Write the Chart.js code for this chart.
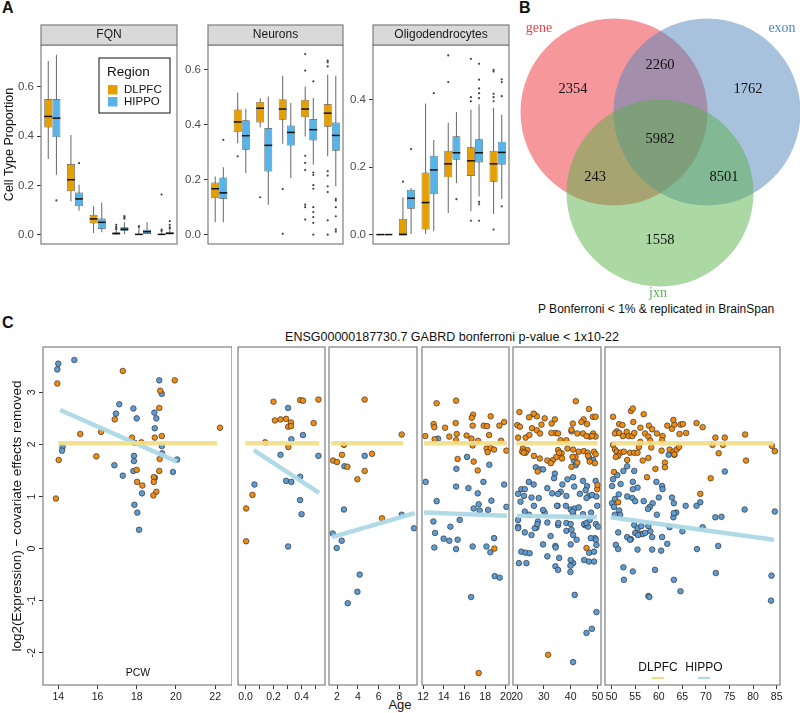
<!DOCTYPE html>
<html>
<head>
<meta charset="utf-8">
<script src="https://cdn.jsdelivr.net/npm/chart.js"></script>
<style>
body { margin: 0; width: 800px; height: 713px; position: relative; overflow: hidden; background: #fff; font-family: "Liberation Sans", Arial, sans-serif; }
canvas { position: absolute; }
.lbl { position: absolute; white-space: nowrap; line-height: 1; color: #111; }
</style>
</head>
<body>
<div class="lbl" style="left:2px;top:0px;font-size:16px;font-weight:bold">A</div>
<div class="lbl" style="left:519px;top:0px;font-size:16px;font-weight:bold">B</div>
<div class="lbl" style="left:2px;top:315px;font-size:16px;font-weight:bold">C</div>
<div class="lbl" style="left:452px;top:331px;font-size:12.5px;transform:translateX(-50%)">ENSG00000187730.7 GABRD bonferroni p-value &lt; 1x10-22</div>
<div class="lbl" style="left:400px;top:698px;font-size:13px;transform:translateX(-50%)">Age</div>
<div class="lbl" style="left:538px;top:303px;font-size:12px">P Bonferroni &lt; 1% &amp; replicated in BrainSpan</div>
<script>
// ---- panel A: cell type proportions ----
var ageGroups = ['Prenatal', 'Infant', 'Child', 'Teen', 'Adult', '50+']

// [lower whisker, q1, median, q3, upper whisker] per age group
var fqnDlpfc = [[0.307,0.435,0.48,0.551,0.705],[0.135,0.176,0.223,0.287,0.405],[0.007,0.045,0.064,0.081,0.115],[0,0,0.004,0.01,0.018],[0,0,0.001,0.003,0.025],[0,0,0.001,0.004,0.01]]
var fqnHippo = [[0.243,0.396,0.473,0.551,0.73],[0.097,0.115,0.145,0.171,0.203],[0.01,0.023,0.05,0.066,0.131],[0,0.015,0.022,0.03,0.05],[0,0.003,0.012,0.02,0.05],[0,0,0.005,0.01,0.02]]
var fqnDlpfcOut = [[],[],[],[0.022,0.027,0.032,0.04],[0.03,0.035],[0.015,0.02,0.163]]
var fqnHippoOut = [[0.139],[0.29],[],[0.065,0.07,0.075],[],[0.025,0.03,0.04,0.055]]

var neuDlpfc = [[0.045,0.133,0.167,0.19,0.212],[0.333,0.373,0.41,0.455,0.517],[0.39,0.408,0.46,0.483,0.495],[0.331,0.418,0.457,0.493,0.578],[0.357,0.427,0.457,0.491,0.539],[0.285,0.393,0.442,0.475,0.582]]
var neuHippo = [[0.045,0.13,0.152,0.208,0.245],[0.224,0.309,0.36,0.416,0.458],[0.109,0.23,0.325,0.388,0.503],[0.206,0.324,0.372,0.397,0.479],[0.255,0.343,0.382,0.421,0.497],[0.176,0.305,0.361,0.408,0.578]]
var neuDlpfcOut = [[],[0.285],[0.136],[0.166,0.003],[0.657,0.597,0.287,0.261,0.235,0.109,0.1,0.055],[0.633,0.627,0.612,0.231,0.215,0.176,0.155,0.052,0.0]]
var neuHippoOut = [[0.345],[],[],[],[0.558,0.226,0.217,0.18,0.167,0.1,0.082,0.064,0.043,0.0],[0.13,0.124,0.1,0.067,0.019,0.011]]

var oliDlpfc = [[0,0,0,0,0],[0,0,0,0.047,0.11],[0,0.015,0.095,0.184,0.389],[0.064,0.17,0.21,0.249,0.332],[0.069,0.174,0.219,0.259,0.371],[0.061,0.157,0.21,0.249,0.377]]
var oliHippo = [[0,0,0,0,0],[0,0.077,0.108,0.133,0.138],[0.01,0.12,0.192,0.234,0.281],[0.153,0.222,0.243,0.292,0.364],[0.113,0.214,0.243,0.283,0.387],[0.106,0.207,0.244,0.276,0.356]]
var oliDlpfcOut = [[],[0.157],[],[0.532,0.453],[0.522,0.408,0.396,0.041],[0.489,0.484,0.418,0.408,0.396,0.015]]
var oliHippoOut = [[],[0.254],[0.42],[0.105],[0.507,0.46,0.434,0.42,0.405,0.097,0.09,0.041],[0.461,0.453,0.411,0.084]]

// ---- panel B: venn ----
var vennSets = ['gene', 'exon', 'jxn']
var vennCenterX = [94, 187, 140]
var vennCenterY = [188, 188, 107]
var vennSetLabelX = [19, 262, 138]
var vennSetLabelY = [272, 272, 7]
var vennCounts = [2354, 2260, 1762, 5982, 243, 8501, 1558]
var vennCountX = [53, 140, 228, 140, 75, 204, 140]
var vennCountY = [211, 235, 211, 161, 123, 123, 60]

// ---- panel C: GABRD expression by age, [age, expression] ----
var pcwDlpfc = [[13.95,3.17],[17.29,3.41],[19.94,3.23],[19.2,3.03],[19.15,2.70],[16.88,2.48],[15.12,2.2],[16.18,2.24],[17.76,2.13],[18.24,2.04],[18.92,2.13],[19.28,2.16],[22.25,2.32],[14.02,1.70],[15.94,1.77],[19.17,1.72],[18.0,1.51],[19.15,1.49],[18.02,1.28],[18.29,1.21],[18.87,1.37],[18.87,1.28],[19.0,1.09],[18.85,1.02],[13.88,0.96]]
var pcwHippo = [[14.0,3.55],[13.95,3.44],[14.82,3.62],[14.22,1.95],[14.19,1.88],[17.11,2.77],[16.94,2.59],[17.83,2.69],[18.0,2.50],[19.15,3.23],[19.28,2.97],[18.9,2.61],[19.0,2.5],[18.92,2.31],[19.28,1.97],[19.29,1.83],[20.06,1.71],[17.86,1.78],[17.86,1.68],[16.86,1.6],[17.29,1.4],[17.83,1.49],[18.93,1.36],[19.85,1.47],[18.27,1.06],[17.88,0.84],[18.03,0.69],[18.12,0.36],[17.9,2.03]]
var pcwFitDlpfc = [[14.0,2.02],[22.1,2.02]]
var pcwFitHippo = [[14.1,2.66],[20.05,1.67]]

var infantDlpfc = [[0.20,2.82],[0.39,2.85],[0.41,2.84],[0.52,2.86],[0.21,2.46],[0.25,2.48],[0.29,2.49],[0.325,2.42],[0.304,2.34],[0.325,2.35],[0.486,2.41],[0.14,2.04],[0.306,1.95],[0.05,1.03],[0.005,0.77],[0.005,0.14]]
var infantHippo = [[0.304,2.70],[0.327,2.10],[0.41,2.18],[0.25,1.80],[0.52,1.78],[0.39,1.38],[0.29,1.30],[0.327,1.28],[0.064,1.23],[0.39,0.93],[0.40,0.66],[0.304,0.04]]
var infantFitDlpfc = [[0.0,2.02],[0.525,2.02]]
var infantFitHippo = [[0.059,1.89],[0.525,1.07]]

var childDlpfc = [[4.66,2.86],[8.22,2.19],[2.67,1.99],[2.48,1.80],[1.62,1.69],[2.0,1.66],[3.0,1.57],[5.37,1.82],[4.66,1.49],[3.96,1.33],[6.33,0.58]]
var childHippo = [[4.66,1.78],[2.71,1.58],[2.67,0.75],[8.22,0.65],[9.4,0.39],[1.59,0.29],[2.45,0.15],[1.97,0.01],[4.18,-0.50],[3.96,-0.83],[3.03,-1.05]]
var childFitDlpfc = [[1.46,2.02],[8.35,2.02]]
var childFitHippo = [[1.52,0.22],[9.47,0.68]]

var teenDlpfc = [[13.31,2.79],[15.19,2.84],[16.83,2.57],[16.7,2.51],[18.53,2.54],[13.02,2.39],[13.09,2.33],[14.13,2.32],[15.15,2.41],[16.79,2.36],[17.86,2.36],[18.18,2.35],[19.37,2.36],[19.83,2.43],[12.22,2.16],[13.12,2.10],[14.54,2.15],[15.25,2.20],[15.19,2.08],[16.21,2.17],[16.67,2.11],[17.31,2.07],[18.38,2.18],[19.54,2.07],[16.79,1.98],[18.14,1.92],[18.53,1.93],[18.86,1.90],[18.24,1.85],[20.05,1.88],[15.34,1.72],[16.89,1.67],[17.28,1.50],[18.89,0.0],[17.37,-2.39]]
var teenHippo = [[13.45,2.11],[16.25,1.76],[15.22,1.53],[18.4,1.61],[12.25,1.28],[15.19,1.19],[16.38,1.16],[17.83,1.28],[19.83,1.23],[17.28,1.06],[13.31,0.91],[18.6,0.92],[17.37,0.85],[16.89,0.77],[17.47,0.73],[18.28,0.74],[20.05,0.80],[13.0,0.52],[15.54,0.55],[14.64,0.42],[13.16,0.30],[13.99,0.19],[14.54,0.15],[15.34,0.17],[18.86,0.20],[13.09,0.02],[16.79,0.04],[18.12,0.04],[15.19,-0.01],[18.5,-0.07],[18.92,-0.53],[19.4,-0.56],[16.64,-0.93]]
var teenFitDlpfc = [[12.1,2.02],[20.1,2.02]]
var teenFitHippo = [[12.1,0.69],[20.1,0.63]]

var adultDlpfc = [[41.9,2.83],[20.9,2.62],[46.8,2.68],[26.3,2.58],[27.4,2.54],[24.5,2.52],[30.3,2.50],[44.8,2.48],[48.3,2.53],[49.3,2.53],[32.9,2.40],[40.8,2.40],[20.1,2.37],[21.1,2.34],[29.1,2.38],[46.1,2.39],[44.0,2.43],[25.6,2.31],[27.4,2.27],[34.3,2.22],[40.3,2.25],[48.4,2.21],[20.4,2.13],[23.2,2.13],[24.6,2.18],[28.6,2.21],[32.8,2.22],[35.3,2.21],[42.5,2.21],[44.6,2.21],[47.1,2.15],[49.3,2.15],[22.2,1.92],[23.9,1.89],[21.9,1.86],[23.2,1.84],[35.3,1.89],[36.6,1.83],[38.8,1.92],[40.9,1.90],[43.0,1.86],[44.9,1.87],[46.3,1.84],[48.7,1.86],[26.3,1.78],[28.5,1.73],[31.3,1.69],[33.4,1.70],[34.7,1.76],[36.8,1.73],[41.8,1.76],[47.1,1.67],[49.0,1.64],[32.6,1.64],[42.5,1.65],[49.9,1.14],[50.0,1.22],[26.2,2.59],[34.1,2.48],[27.7,1.48],[40.3,1.57],[45.9,0.01],[31.6,-2.04],[40.3,2.28],[36.2,2.08],[38.4,2.08],[35.7,1.84],[40.7,1.76],[46.5,1.78],[49.3,1.81],[22.5,1.84],[45.9,2.16],[48.0,2.16]]
var adultHippo = [[27.0,1.56],[28.5,1.52],[29.7,1.52],[34.1,1.44],[41.2,1.69],[41.9,1.60],[46.8,1.75],[48.4,1.70],[33.8,1.35],[24.4,1.28],[26.2,1.23],[38.8,1.33],[40.9,1.37],[44.6,1.30],[46.1,1.20],[49.3,1.30],[36.9,1.23],[31.3,1.16],[21.6,1.14],[22.9,1.14],[33.1,1.06],[36.3,1.09],[41.3,1.19],[45.6,1.12],[20.4,1.05],[22.6,1.01],[25.4,0.98],[28.1,0.97],[35.3,1.05],[38.4,1.01],[43.4,1.05],[46.8,1.01],[48.0,1.03],[45.9,0.97],[49.6,1.00],[21.3,0.90],[26.3,0.82],[35.1,0.82],[38.2,0.82],[40.0,0.75],[41.5,0.77],[43.0,0.79],[30.3,0.69],[22.9,0.71],[27.8,0.52],[31.3,0.50],[40.9,0.66],[44.6,0.66],[38.4,0.49],[20.4,0.42],[27.2,0.40],[35.3,0.45],[45.3,0.45],[46.5,0.42],[49.4,0.47],[25.4,0.26],[22.9,0.31],[32.5,0.24],[40.9,0.26],[49.0,0.20],[20.4,0.55],[20.4,0.39],[20.7,-0.28],[21.6,-0.06],[23.2,-0.08],[24.7,-0.09],[23.5,-0.28],[26.6,0.39],[27.6,0.47],[29.7,0.08],[31.3,-0.15],[34.3,0.05],[34.4,0.02],[35.4,0.49],[35.7,-0.18],[34.3,-0.34],[35.3,-0.41],[38.4,0.34],[40.0,0.47],[40.3,0.36],[40.0,0.08],[40.9,-0.28],[40.0,-0.22],[39.9,-0.33],[39.9,-0.45],[42.2,0.17],[41.5,-0.89],[45.0,0.47],[45.9,0.49],[45.0,-0.22],[46.8,-0.25],[46.9,-0.08],[47.5,0.20],[48.7,-0.06],[48.7,-0.25],[49.4,0.17],[49.6,0.07],[50.2,0.42],[45.9,-1.62],[47.9,-1.54],[49.6,-1.22],[40.9,-2.18],[47.1,0.55],[47.6,0.69],[40.7,0.71],[24.5,0.65],[29.7,0.74],[34.9,0.82],[49.9,0.82]]
var adultFitDlpfc = [[19.7,2.02],[50.0,2.02]]
var adultFitHippo = [[20.0,0.63],[49.8,0.60]]

var olderDlpfc = [[50.3,2.53],[54.1,2.64],[54.5,2.69],[56.8,2.58],[54.6,2.43],[51.6,2.39],[52.3,2.37],[56.1,2.32],[57.9,2.36],[58.6,2.29],[57.1,2.21],[57.8,2.15],[51.1,2.25],[50.7,2.21],[51.6,2.22],[52.4,2.16],[53.2,2.24],[53.6,2.16],[54.4,2.16],[54.8,2.22],[56.1,2.05],[58.2,2.07],[59.6,2.21],[60.8,2.16],[60.7,2.08],[61.8,2.36],[62.8,2.30],[63.3,2.38],[64.6,2.38],[65.1,2.39],[64.4,2.20],[65.8,2.22],[68.0,2.41],[69.3,2.33],[72.0,2.13],[74.0,2.13],[78.3,2.19],[50.3,1.99],[50.7,1.90],[51.1,1.86],[51.9,1.84],[51.4,1.78],[50.9,1.76],[52.6,1.86],[53.9,1.84],[54.8,1.84],[55.5,1.84],[55.8,1.95],[58.4,1.94],[60.6,1.88],[62.3,1.90],[63.1,1.86],[63.3,1.81],[63.8,1.90],[64.3,1.95],[53.3,1.70],[56.6,1.69],[57.8,1.74],[61.3,1.65],[61.3,1.56],[59.3,1.53],[57.5,1.37],[50.5,1.47],[71.4,1.99],[73.6,1.99],[72.7,1.83],[78.5,1.69],[84.0,1.97],[84.6,1.87],[71.0,1.35],[68.8,1.05],[51.4,0.89],[63.1,2.47]]
var olderHippo = [[62.1,1.80],[63.3,1.80],[53.3,1.58],[52.5,1.49],[54.8,1.49],[51.2,1.41],[50.3,1.33],[50.1,1.20],[54.5,1.28],[51.9,1.24],[55.5,1.17],[54.5,1.14],[59.5,1.28],[60.7,1.20],[60.8,1.14],[74.0,1.48],[51.5,1.04],[53.3,1.00],[54.4,0.97],[55.0,0.91],[50.7,0.95],[56.8,0.91],[58.7,0.87],[60.0,0.98],[62.8,0.98],[63.2,0.87],[68.8,0.89],[68.0,0.82],[65.7,0.82],[50.1,0.87],[50.5,0.80],[58.1,0.80],[57.7,0.76],[51.6,0.73],[51.8,0.65],[50.7,0.65],[59.6,0.65],[63.7,0.69],[63.1,0.60],[72.0,0.60],[73.3,0.61],[78.2,0.75],[84.6,0.71],[54.8,0.45],[55.5,0.39],[56.3,0.43],[57.8,0.43],[56.1,0.28],[56.6,0.28],[58.2,0.33],[62.3,0.41],[65.0,0.33],[69.3,0.41],[51.4,0.31],[53.3,0.22],[54.1,0.18],[58.6,0.22],[60.7,0.22],[50.9,0.07],[51.4,-0.01],[52.5,-0.36],[52.6,-0.60],[54.5,-0.44],[53.9,0.17],[55.0,0.30],[55.6,0.26],[55.5,-0.02],[57.1,0.30],[57.8,-0.91],[58.0,-0.93],[59.2,-0.41],[58.6,-0.02],[60.5,-0.04],[61.8,0.09],[63.2,-0.60],[64.6,-0.82],[68.1,-0.01],[72.1,-0.47],[72.6,0.05],[83.9,-0.52],[83.8,-1.0],[63.2,0.68]]
var olderFitDlpfc = [[50.0,2.02],[84.3,2.02]]
var olderFitHippo = [[49.8,0.60],[84.4,0.17]]

var DLPFC_BOX = '#E69F00'
var HIPPO_BOX = '#56B4E9'
var DLPFC_PT = '#F28C0F'
var HIPPO_PT = '#5B9DD4'

Chart.defaults.font.family = '"Liberation Sans", Arial, sans-serif'
Chart.defaults.animation = false
Chart.defaults.events = []
Chart.defaults.responsive = false
Chart.defaults.layout.autoPadding = false
Chart.defaults.plugins.legend.display = false
Chart.defaults.plugins.tooltip.enabled = false

function addCanvas(left, top, w, h) {
  var c = document.createElement('canvas')
  c.width = w
  c.height = h
  c.style.left = left + 'px'
  c.style.top = top + 'px'
  c.style.width = w + 'px'
  c.style.height = h + 'px'
  document.body.appendChild(c)
  return c
}

function toXY(arr) {
  return arr.map(function (p) { return { x: p[0], y: p[1] } })
}

// panel border + optional facet strip + optional extra text
var framePlugin = {
  id: 'frame',
  afterDatasetsDraw: function (chart, args, opts) {
    var a = chart.chartArea, ctx = chart.ctx
    ctx.save()
    ctx.strokeStyle = '#7f7f7f'
    ctx.lineWidth = 1.2
    ctx.strokeRect(a.left, a.top, a.right - a.left, a.bottom - a.top)
    if (opts.strip) {
      ctx.fillStyle = '#d9d9d9'
      ctx.fillRect(a.left, a.top - 20, a.right - a.left, 20)
      ctx.strokeRect(a.left, a.top - 20, a.right - a.left, 20)
      ctx.fillStyle = '#1a1a1a'
      ctx.font = '12px "Liberation Sans"'
      ctx.textAlign = 'center'
      ctx.textBaseline = 'middle'
      ctx.fillText(opts.strip, (a.left + a.right) / 2, a.top - 10)
    }
    if (opts.regionLegend) {
      var x = a.left + 58, y = a.top + 13
      ctx.fillStyle = '#fff'
      ctx.fillRect(x, y, 71, 55)
      ctx.strokeStyle = '#111'
      ctx.lineWidth = 1
      ctx.strokeRect(x, y, 71, 55)
      ctx.fillStyle = '#111'
      ctx.textAlign = 'left'
      ctx.textBaseline = 'middle'
      ctx.font = '13.5px "Liberation Sans"'
      ctx.fillText('Region', x + 8, y + 14)
      ctx.font = '11.5px "Liberation Sans"'
      ;[['DLPFC', DLPFC_BOX], ['HIPPO', HIPPO_BOX]].forEach(function (r, i) {
        ctx.fillStyle = r[1]
        ctx.fillRect(x + 9, y + 27 + i * 12, 9.5, 9.5)
        ctx.fillStyle = '#111'
        ctx.fillText(r[0], x + 25, y + 32 + i * 11.5)
      })
    }
    if (opts.pcw) {
      ctx.fillStyle = '#111'
      ctx.font = '10.5px "Liberation Sans"'
      ctx.textAlign = 'center'
      ctx.textBaseline = 'middle'
      ctx.fillText('PCW', a.left + 95, a.bottom - 12)
    }
    if (opts.regionKey) {
      ctx.font = '12px "Liberation Sans"'
      ctx.textAlign = 'center'
      ctx.textBaseline = 'middle'
      ;[['DLPFC', 'rgb(240,222,135)', 53], ['HIPPO', 'rgb(173,216,230)', 99]].forEach(function (r) {
        ctx.fillStyle = '#111'
        ctx.fillText(r[0], a.left + r[2], a.bottom - 17)
        ctx.strokeStyle = r[1]
        ctx.lineWidth = 2
        ctx.beginPath()
        ctx.moveTo(a.left + r[2] - 6, a.bottom - 7)
        ctx.lineTo(a.left + r[2] + 6, a.bottom - 7)
        ctx.stroke()
      })
    }
    ctx.restore()
  }
}

// y tick labels drawn vertically like the R base plot
var verticalYTicks = {
  id: 'verticalYTicks',
  afterDraw: function (chart) {
    var ys = chart.scales.y, ctx = chart.ctx
    ctx.save()
    ctx.font = '10.5px "Liberation Sans"'
    ctx.fillStyle = '#1a1a1a'
    ctx.textAlign = 'center'
    ctx.textBaseline = 'middle'
    ys.ticks.forEach(function (t) {
      ctx.save()
      ctx.translate(chart.chartArea.left - 11, ys.getPixelForValue(t.value))
      ctx.rotate(-Math.PI / 2)
      ctx.fillText(String(t.value), 0, 0)
      ctx.restore()
    })
    ctx.restore()
  }
}

// one region's boxes: bars sit at age index +/- shift on a linear x scale
function boxGroup(stats, outliers, color, shift) {
  var outPts = []
  outliers.forEach(function (vals, i) {
    vals.forEach(function (v) { outPts.push({ x: i + shift, y: v }) })
  })
  return [
    { type: 'bar', grouped: false, data: stats.map(function (s, i) { return { x: i + shift, y: [s[1], s[3]] } }),
      backgroundColor: color, borderColor: '#4d4d4d', borderWidth: 0.7, borderSkipped: false,
      categoryPercentage: 1, barPercentage: 0.98, order: 3 },
    { type: 'bar', grouped: false, data: stats.map(function (s, i) { return { x: i + shift, y: [s[0], s[4]] } }),
      backgroundColor: '#666', borderWidth: 0, maxBarThickness: 1, order: 4 },
    { type: 'scatter', data: stats.map(function (s, i) { return { x: i + shift, y: s[2] } }),
      pointStyle: 'line', pointRadius: 3.9, pointBorderColor: '#111', pointBorderWidth: 1.5, order: 1 },
    { type: 'scatter', data: outPts,
      pointRadius: 1.1, pointBackgroundColor: '#444', pointBorderWidth: 0, order: 2 }
  ]
}

function boxFacet(name, left, yw, plotW, yMin, yMax, dl, dlOut, hi, hiOut, extra) {
  var c = addCanvas(left, 22, yw + plotW + 4, 277)
  var yTitle = extra && extra.yTitle
  new Chart(c, {
    type: 'bar',
    data: {
      datasets: boxGroup(dl, dlOut, DLPFC_BOX, -0.18).concat(boxGroup(hi, hiOut, HIPPO_BOX, 0.18))
    },
    options: {
      layout: { padding: { top: 23, right: 4, left: 0, bottom: 0 } },
      scales: {
        x: {
          type: 'linear', min: -0.5, max: 5.5, offset: false,
          grid: { offset: false, drawOnChartArea: false, tickLength: 4, color: '#333' },
          border: { display: false },
          ticks: { stepSize: 1, includeBounds: false, autoSkip: false, minRotation: 45, maxRotation: 45, padding: 1,
                   color: '#4d4d4d', font: { size: 12 }, callback: function (v) { return ageGroups[v] } },
          afterFit: function (s) { s.height = 55 }
        },
        y: {
          type: 'linear', min: yMin, max: yMax,
          grid: { drawOnChartArea: false, tickLength: 4, color: '#333' },
          border: { display: false },
          ticks: { stepSize: 0.2, includeBounds: false, color: '#4d4d4d', font: { size: 11.5 },
                   callback: function (v) { return v.toFixed(1) } },
          title: { display: !!yTitle, text: yTitle || '', color: '#111', font: { size: 12.5 }, padding: { top: 2, bottom: 0 } },
          afterFit: function (s) { s.width = yw }
        }
      },
      plugins: { frame: { strip: name, regionLegend: extra && extra.legend } }
    },
    plugins: [framePlugin]
  })
}

boxFacet('FQN', 0, 41, 136, -0.038, 0.77, fqnDlpfc, fqnDlpfcOut, fqnHippo, fqnHippoOut,
  { yTitle: 'Cell Type Proportion', legend: true })
boxFacet('Neurons', 178, 30, 135, -0.034, 0.69, neuDlpfc, neuDlpfcOut, neuHippo, neuHippoOut)
boxFacet('Oligodendrocytes', 343, 30, 136, -0.028, 0.563, oliDlpfc, oliDlpfcOut, oliHippo, oliHippoOut)

// ---- venn ----
var vennFill = ['rgba(237,50,55,0.5)', 'rgba(81,133,187,0.5)', 'rgba(89,177,73,0.5)']
var vennTextColor = ['#e8434a', '#4f86c0', '#5fae58']
var vennText = {
  id: 'vennText',
  afterDatasetsDraw: function (chart) {
    var ctx = chart.ctx, xs = chart.scales.x, ys = chart.scales.y
    ctx.save()
    ctx.textAlign = 'center'
    ctx.textBaseline = 'middle'
    ctx.font = '14.5px "Liberation Serif"'
    ctx.fillStyle = '#111'
    chart.getDatasetMeta(3).data.forEach(function (pt, i) {
      ctx.fillText(String(vennCounts[i]), pt.x, pt.y)
    })
    ctx.font = '14px "Liberation Serif"'
    vennSets.forEach(function (s, i) {
      ctx.fillStyle = vennTextColor[i]
      ctx.fillText(s, xs.getPixelForValue(vennSetLabelX[i]), ys.getPixelForValue(vennSetLabelY[i]))
    })
    ctx.restore()
  }
}
var vennDatasets = vennSets.map(function (s, i) {
  return { data: [{ x: vennCenterX[i], y: vennCenterY[i] }], pointRadius: 93.5,
           pointBackgroundColor: vennFill[i], pointBorderWidth: 0, clip: false, order: 3 - i }
})
vennDatasets.push({ data: vennCountX.map(function (x, i) { return { x: x, y: vennCountY[i] } }), pointRadius: 0, order: 0 })
new Chart(addCanvas(520, 0, 280, 300), {
  type: 'scatter',
  data: { datasets: vennDatasets },
  options: {
    layout: { padding: 0, autoPadding: false },
    scales: { x: { display: false, min: 0, max: 280 }, y: { display: false, min: 0, max: 300 } }
  },
  plugins: [vennText]
})

// ---- panel C facets ----
function scatterFacet(left, plotW, xMin, xMax, step, dl, hi, fitDl, fitHi, extra) {
  extra = extra || {}
  var first = !!extra.first
  var padL = first ? 0 : 12
  var padR = first ? 0 : 12
  var yw = first ? 43 : 0
  var c = addCanvas(left, 335, yw + padL + plotW + padR, 378)
  new Chart(c, {
    type: 'scatter',
    data: {
      datasets: [
        { data: toXY(fitDl), showLine: true, borderColor: 'rgba(240,222,135,0.92)', borderWidth: 4.5, pointRadius: 0, order: 0 },
        { data: toXY(fitHi), showLine: true, borderColor: 'rgba(173,216,230,0.95)', borderWidth: 4.5, pointRadius: 0, order: 0 },
        { data: toXY(dl), pointRadius: 2.8, pointBackgroundColor: DLPFC_PT, pointBorderColor: '#333', pointBorderWidth: 0.7, order: 1 },
        { data: toXY(hi), pointRadius: 2.8, pointBackgroundColor: HIPPO_PT, pointBorderColor: '#333', pointBorderWidth: 0.7, order: 2 }
      ]
    },
    options: {
      layout: { padding: { top: 12, left: padL, right: padR, bottom: 0 } },
      scales: {
        x: {
          type: 'linear', min: xMin, max: xMax,
          grid: { drawOnChartArea: false, tickLength: 4, color: '#333' },
          border: { display: false },
          ticks: { stepSize: step, includeBounds: false, autoSkip: false, maxRotation: 0, padding: 2,
                   color: '#1a1a1a', font: { size: 10.5 }, callback: extra.tickFormat || function (v) { return String(v) } },
          afterFit: function (s) { s.height = 28 }
        },
        y: {
          type: 'linear', min: -2.62, max: 3.87, display: first,
          grid: { drawOnChartArea: false, tickLength: 4, color: '#333' },
          border: { display: false },
          ticks: { stepSize: 1, includeBounds: false, color: 'rgba(0,0,0,0)', font: { size: 10.5 } },
          title: { display: first, text: 'log2(Expression) \u2212 covariate effects removed', color: '#111',
                   font: { size: 13.5 }, padding: { top: 9, bottom: 0 } },
          afterFit: function (s) { s.width = yw }
        }
      },
      plugins: { frame: { pcw: extra.pcw, regionKey: extra.key } }
    },
    plugins: first ? [framePlugin, verticalYTicks] : [framePlugin]
  })
}

scatterFacet(0, 189, 13.22, 22.86, 2, pcwDlpfc, pcwHippo, pcwFitDlpfc, pcwFitHippo, { first: true, pcw: true })
scatterFacet(226, 87, -0.053, 0.567, 0.1, infantDlpfc, infantHippo, infantFitDlpfc, infantFitHippo,
  { tickFormat: function (v) { return Math.round(v * 10) % 2 === 0 ? v.toFixed(1) : '' } })
scatterFacet(317, 88, 1.23, 9.69, 2, childDlpfc, childHippo, childFitDlpfc, childFitHippo)
scatterFacet(410, 87, 11.9, 20.3, 2, teenDlpfc, teenHippo, teenFitDlpfc, teenFitHippo)
scatterFacet(501, 88, 18.5, 51.3, 10, adultDlpfc, adultHippo, adultFitDlpfc, adultFitHippo)
scatterFacet(593, 175, 48.6, 85.7, 5, olderDlpfc, olderHippo, olderFitDlpfc, olderFitHippo, { key: true })
</script>
</body>
</html>
